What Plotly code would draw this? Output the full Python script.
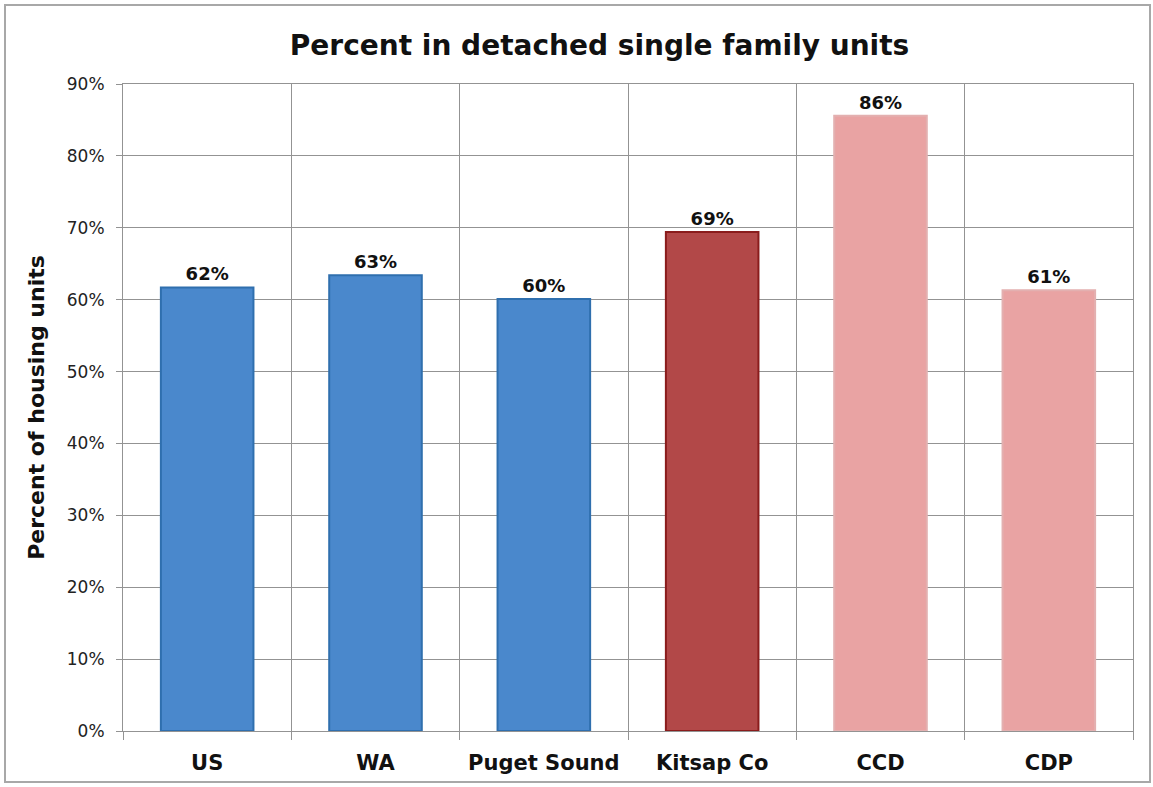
import plotly.graph_objects as go

# Share of housing units that are detached single-family homes
categories = ["US", "WA", "Puget Sound", "Kitsap Co", "CCD", "CDP"]
percent_detached = [61.7, 63.4, 60.1, 69.4, 85.6, 61.3]

fill_colors = ["#4a88cc", "#4a88cc", "#4a88cc", "#b24848", "#e9a3a3", "#e9a3a3"]
edge_colors = ["#2f6fae", "#2f6fae", "#2f6fae", "#8a1c1c", "#e3b0b0", "#e3b0b0"]

font_family = "DejaVu Sans, sans-serif"

fig = go.Figure(
    go.Bar(
        x=categories,
        y=percent_detached,
        width=0.55,
        marker=dict(color=fill_colors, line=dict(color=edge_colors, width=2)),
        texttemplate="<b>%{y:.0f}%</b>",
        textposition="outside",
        textfont=dict(size=18, color="#111111", family=font_family),
        cliponaxis=False,
    )
)

fig.update_layout(
    width=1153,
    height=787,
    margin=dict(l=123, r=20, t=84, b=56),
    paper_bgcolor="white",
    plot_bgcolor="white",
    showlegend=False,
    title=dict(
        text="<b>Percent in detached single family units</b>",
        x=0.52,
        xanchor="center",
        y=0.943,
        yanchor="middle",
        font=dict(size=28, color="#111111", family=font_family),
    ),
    xaxis=dict(
        type="category",
        tickson="boundaries",
        showgrid=True,
        gridcolor="#939393",
        gridwidth=1,
        showline=True,
        linecolor="#939393",
        mirror=True,
        ticks="outside",
        ticklen=8,
        tickcolor="#939393",
        ticklabelstandoff=13,
        tickfont=dict(size=21, color="#111111", family=font_family),
        tickprefix="<b>",
        ticksuffix="</b>",
    ),
    yaxis=dict(
        range=[0, 90],
        dtick=10,
        ticksuffix="%",
        showgrid=True,
        gridcolor="#939393",
        gridwidth=1,
        showline=True,
        linecolor="#939393",
        mirror=True,
        ticks="outside",
        ticklen=6,
        tickcolor="#939393",
        ticklabelstandoff=8,
        tickfont=dict(size=17, color="#222222", family=font_family),
        zeroline=False,
        title=dict(
            text="<b>Percent of housing units</b>",
            font=dict(size=22, color="#111111", family=font_family),
            standoff=16,
        ),
    ),
)

# Frame around the whole chart
fig.add_shape(
    type="rect",
    xref="paper",
    yref="paper",
    x0=-118 / 1010,
    x1=1 + 17 / 1010,
    y0=-51 / 647,
    y1=1 + 79 / 647,
    line=dict(color="#a8a8a8", width=2),
    fillcolor="rgba(0,0,0,0)",
    layer="below",
)

fig.write_html("out.html")
